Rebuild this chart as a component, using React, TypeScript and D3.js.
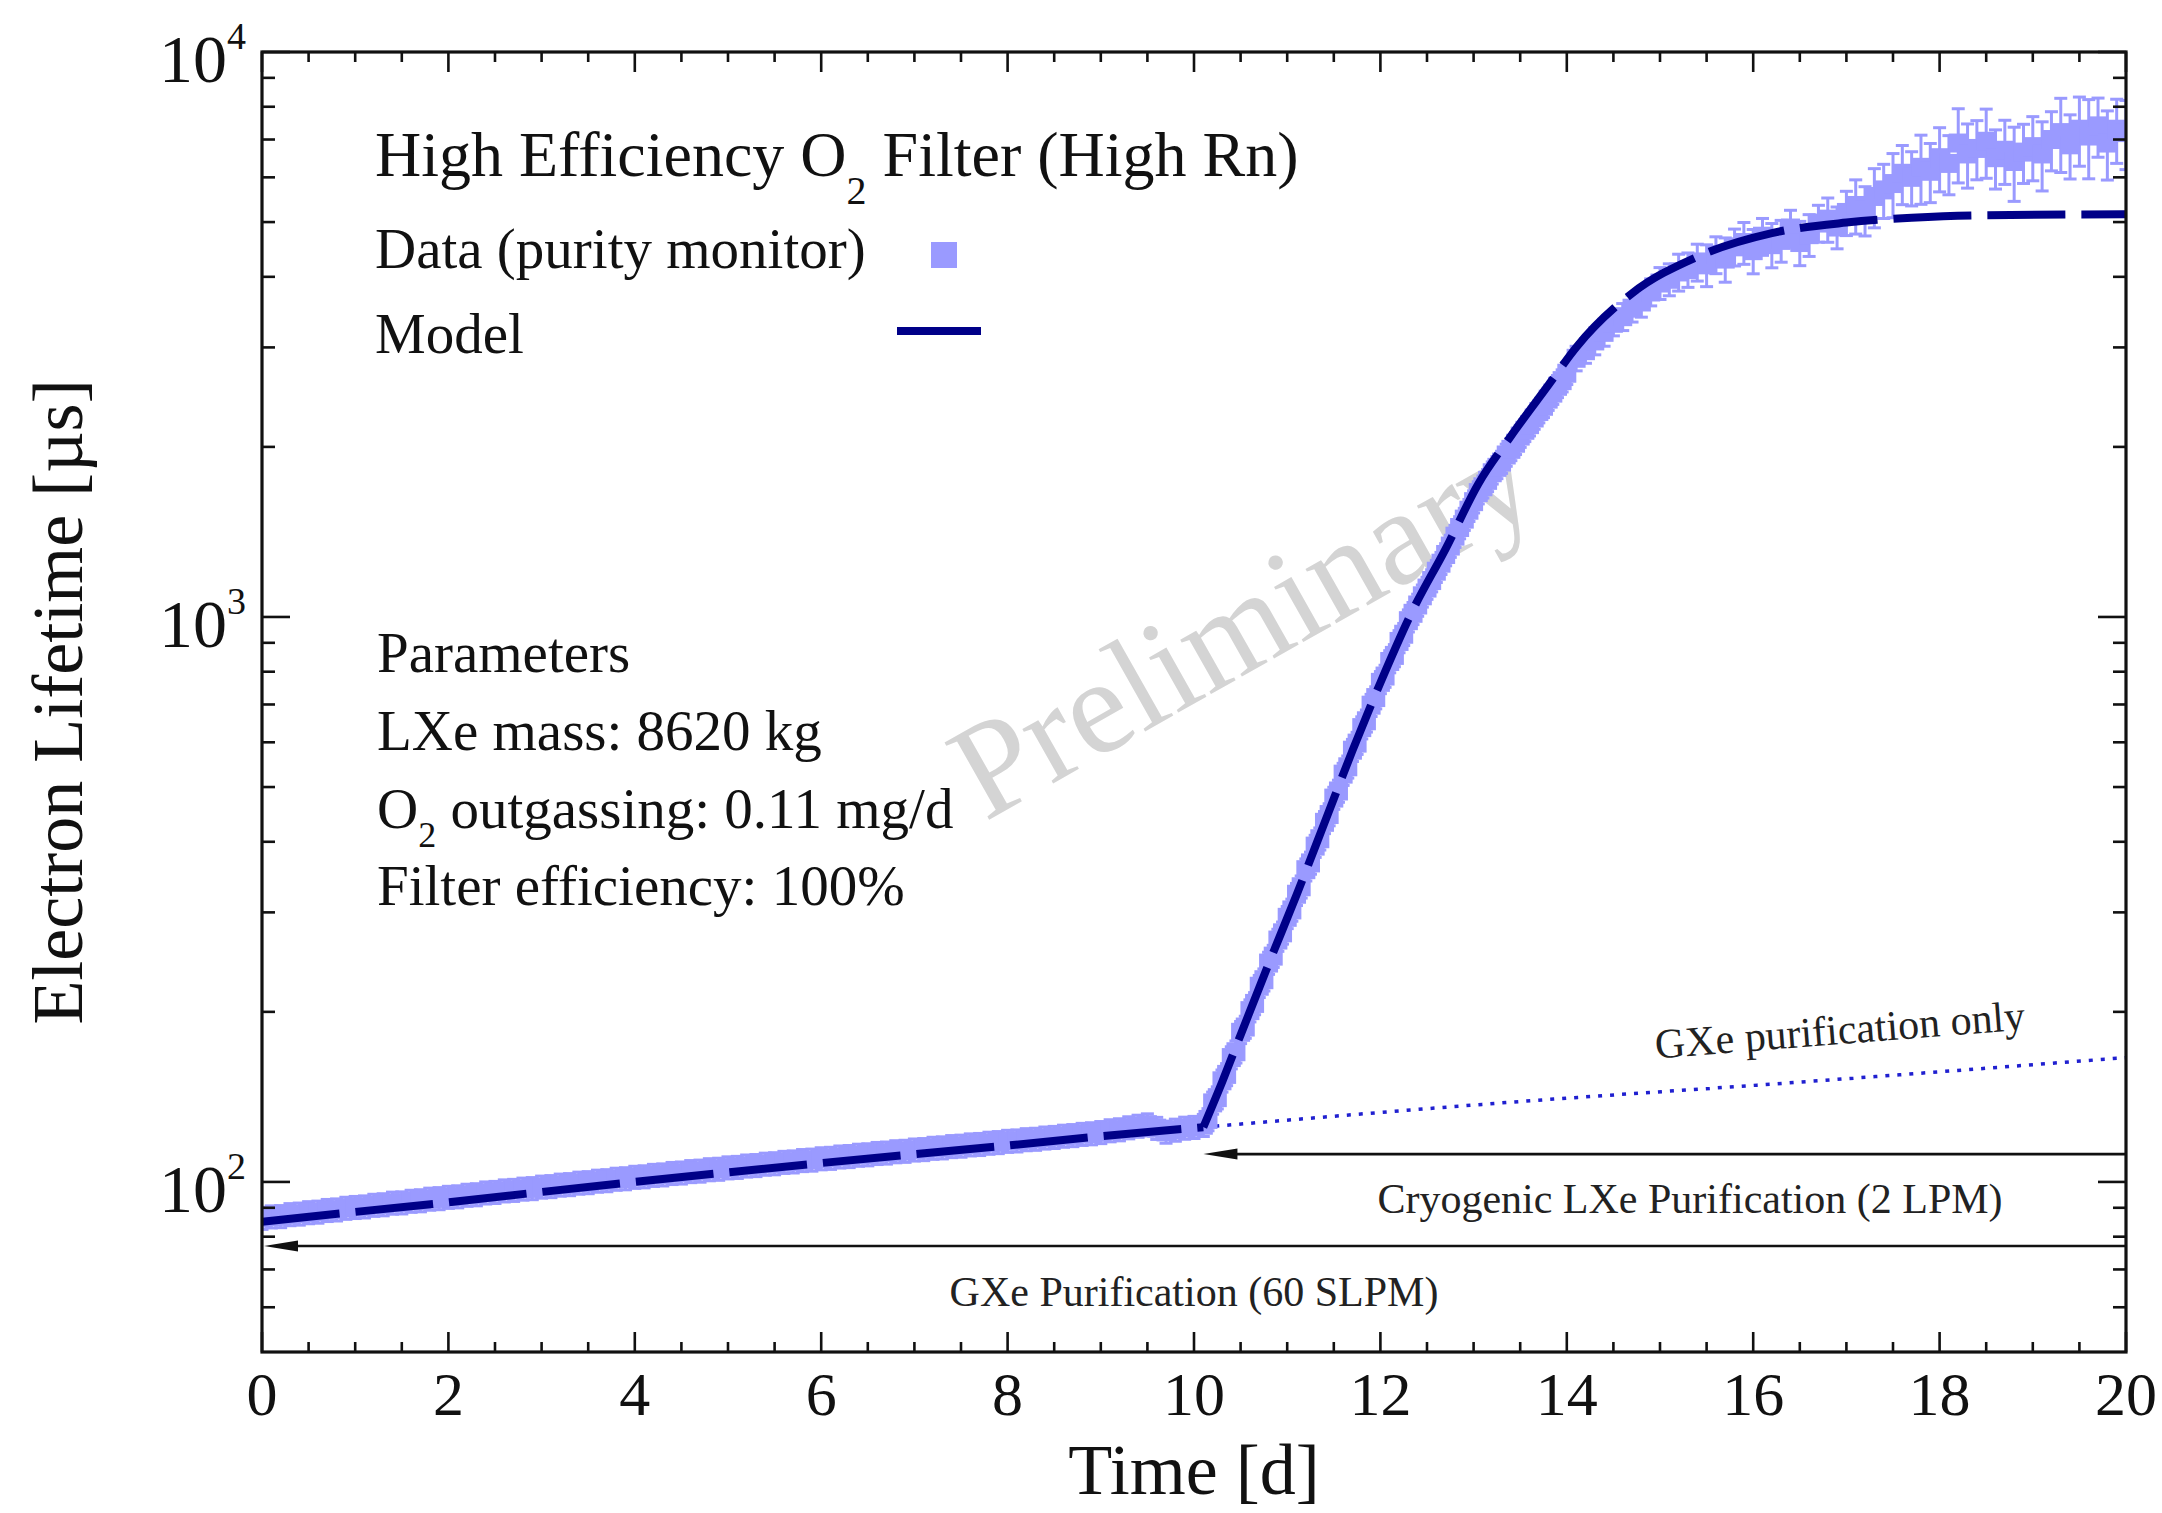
import React from "react";
import * as d3 from "d3";

// ---------- data ----------
const xTickValues = [0, 2, 4, 6, 8, 10, 12, 14, 16, 18, 20];
const yMajorTicks = [100, 1000, 10000];
const yMajorExponents = ["2", "3", "4"];

// model (dashed) : GXe-only phase, then cryogenic LXe purification phase
const modelT1 = [0, 1, 2, 3, 4, 5, 6, 7, 8, 9, 10.1];
const modelV1 = [85, 88.5, 92, 96, 100, 104, 108, 112, 116, 120.5, 125];
const modelT2 = [10.1, 10.3, 10.5, 10.8, 11.1, 11.4, 11.7, 12.0, 12.35, 12.7, 13.05, 13.4, 13.8, 14.1, 14.7, 15.4, 16.2, 17.0, 17.7, 18.4, 20];
const modelV2 = [125, 150, 182, 243, 322, 432, 580, 765, 1030, 1320, 1720, 2090, 2570, 3000, 3740, 4340, 4780, 4990, 5090, 5140, 5160];

// "GXe purification only" extrapolation (dotted)
const gxeOnlyT = [10.1, 13.3, 16.45, 20];
const gxeOnlyV = [125, 138, 150, 166];

// purity monitor data, t = 0.0 .. 10.0 every 0.1 d
const dataVA = [
  86.3, 86.8, 86.9, 87.6, 87.8, 88.3, 88.5, 89.1, 89.3, 89.9,
  90.2, 90.4, 91.0, 91.2, 91.8, 91.9, 92.5, 92.7, 93.3, 93.5,
  94.0, 94.2, 94.8, 95.0, 95.7, 95.9, 96.5, 96.7, 97.2, 97.4,
  98.0, 98.2, 98.8, 99.0, 99.6, 99.8, 100.4, 100.6, 101.2, 101.4,
  102.0, 102.2, 102.8, 103.0, 103.6, 103.8, 104.4, 104.6, 105.2, 105.4,
  106.0, 106.2, 106.8, 107.0, 107.6, 107.8, 108.4, 108.6, 109.2, 109.4,
  110.0, 110.2, 110.8, 111.0, 111.6, 111.8, 112.4, 112.6, 113.2, 113.4,
  114.0, 114.2, 114.8, 115.0, 115.6, 115.8, 116.4, 116.6, 117.2, 117.5,
  118.1, 118.3, 118.9, 119.1, 119.7, 120.0, 120.6, 120.9, 121.5, 121.8,
  122.4, 123.3, 123.8, 124.8, 125.6, 126.3, 124.5, 122.6, 123.6, 124.6,
  125.0,
];
const errA = 0.045;
// t = 10.10 .. 14.00 every 0.05 d
const dataVB = [
  126, 129, 138, 141, 151, 155, 166, 170, 184, 188,
  201, 207, 222, 228, 244, 251, 268, 276, 294, 303,
  323, 333, 357, 367, 393, 405, 433, 447, 478, 492,
  527, 543, 581, 598, 637, 655, 698, 720, 766, 786,
  834, 855, 905, 932, 985, 1015, 1050, 1090, 1125, 1160,
  1205, 1245, 1290, 1335, 1390, 1440, 1490, 1545, 1600, 1660,
  1700, 1745, 1800, 1840, 1880, 1935, 1980, 2030, 2090, 2140,
  2190, 2250, 2310, 2360, 2430, 2490, 2560, 2620, 2700,
];
const errB = 0.045;
// t = 14.1 .. 20.0 every 0.1 d
const dataVC = [
  2870, 2960, 3080, 3190, 3310, 3400, 3520, 3610, 3760, 3900,
  3960, 4080, 4120, 4250, 4200, 4380, 4300, 4520, 4600, 4450,
  4720, 4560, 4640, 4880, 4600, 4750, 4980, 5060, 4900, 5200,
  5350, 5250, 5550, 5700, 5850, 6100, 6000, 6250, 6150, 6500,
  6350, 6900, 6600, 6750, 6950, 6500, 6700, 6400, 6650, 6800,
  6600, 7000, 7200, 6850, 7300, 7100, 7400, 6900, 7300, 7200,
];
const errC = [
  0.05, 0.05, 0.055, 0.055, 0.05, 0.055, 0.055, 0.06, 0.055, 0.065,
  0.065, 0.075, 0.07, 0.075, 0.085, 0.075, 0.09, 0.075, 0.085, 0.09,
  0.075, 0.09, 0.085, 0.075, 0.09, 0.085, 0.075, 0.09, 0.085, 0.09,
  0.11, 0.1, 0.12, 0.11, 0.13, 0.12, 0.11, 0.14, 0.12, 0.13,
  0.12, 0.15, 0.13, 0.12, 0.14, 0.12, 0.13, 0.15, 0.12, 0.13,
  0.14, 0.12, 0.15, 0.13, 0.14, 0.16, 0.12, 0.14, 0.13, 0.14,
];

// arrows (purification phases)
const arrowSpecs = [
  { from: 20, to: 10.08, v: 112 },
  { from: 20, to: 0, v: 77 },
];

const FONT = "'Liberation Serif', 'Times New Roman', Times, serif";
const DATA_COLOR = "#9a9aff";
const MODEL_COLOR = "#000088";

export default function App() {
  const x = d3.scaleLinear().domain([0, 20]).range([262, 2126]);
  const y = d3.scaleLog().domain([50, 10000]).range([1352, 52]);
  const L = 262, R = 2126, T = 52, B = 1352;

  const timesA = d3.range(dataVA.length).map((i) => +(i * 0.1).toFixed(2));
  const timesB = d3.range(dataVB.length).map((i) => +(10.1 + i * 0.05).toFixed(2));
  const timesC = d3.range(dataVC.length).map((i) => +(14.1 + i * 0.1).toFixed(2));

  type P = { t: number; v: number; e: number };
  const points: P[] = [
    ...dataVA.map((v, i) => ({ t: timesA[i], v, e: errA })),
    ...dataVB.map((v, i) => ({ t: timesB[i], v, e: errB })),
    ...dataVC.map((v, i) => ({ t: timesC[i], v, e: errC[i] })),
  ];

  const lineLin = d3
    .line<[number, number]>()
    .x((d) => x(d[0]))
    .y((d) => y(d[1]));
  const lineSmooth = d3
    .line<[number, number]>()
    .x((d) => x(d[0]))
    .y((d) => y(d[1]))
    .curve(d3.curveMonotoneX);

  const model1 = lineLin(modelT1.map((t, i) => [t, modelV1[i]] as [number, number])) || "";
  const model2 = lineSmooth(modelT2.map((t, i) => [t, modelV2[i]] as [number, number])) || "";
  const gxeOnly = lineSmooth(gxeOnlyT.map((t, i) => [t, gxeOnlyV[i]] as [number, number])) || "";

  const xMinor = d3.range(0, 20.001, 0.5).filter((t) => Math.abs(t / 2 - Math.round(t / 2)) > 1e-6);
  const yMinor = y
    .ticks()
    .filter((v) => !yMajorTicks.includes(v) && v > 50 && v < 10000);

  const sq = 19;
  const cap = 13;

  return (
    <svg
      width={2162}
      height={1513}
      style={{ position: "absolute", left: 0, top: 0, background: "#fff", display: "block" }}
      fontFamily={FONT}
    >
      <rect x={0} y={0} width={2162} height={1513} fill="#ffffff" />
      <defs>
        <clipPath id="plotClip">
          <rect x={L} y={T} width={R - L} height={B - T} />
        </clipPath>
      </defs>

      {/* watermark */}
      <text
        x={985}
        y={822}
        fontSize={136}
        fill="#d4d4d4"
        transform="rotate(-29.5 985 822)"
      >
        Preliminary
      </text>

      {/* dotted GXe-only extrapolation */}
      <path
        d={gxeOnly}
        fill="none"
        stroke="#2020d0"
        strokeWidth={3.5}
        strokeDasharray="4 8"
        clipPath="url(#plotClip)"
      />

      {/* arrows */}
      {arrowSpecs.map((a, i) => {
        const y0 = y(a.v);
        const xh = x(a.to);
        const xs = x(a.from);
        return (
          <g key={"arr" + i}>
            <line x1={xs} x2={xh + 20} y1={y0} y2={y0} stroke="#111" strokeWidth={2.6} />
            <polygon
              points={`${xh + 2},${y0} ${xh + 36},${y0 - 5.5} ${xh + 36},${y0 + 5.5}`}
              fill="#111"
            />
          </g>
        );
      })}

      {/* data: error bars + squares */}
      <g clipPath="url(#plotClip)">
        {points.map((p, i) => {
          const cx = x(p.t);
          const y1 = y(p.v * (1 + p.e));
          const y2 = y(p.v * (1 - p.e));
          return (
            <g key={"eb" + i} stroke={DATA_COLOR} strokeWidth={3}>
              <line x1={cx} x2={cx} y1={y1} y2={y2} />
              <line x1={cx - cap / 2} x2={cx + cap / 2} y1={y1} y2={y1} />
              <line x1={cx - cap / 2} x2={cx + cap / 2} y1={y2} y2={y2} />
            </g>
          );
        })}
        {points.map((p, i) => (
          <rect
            key={"pt" + i}
            x={x(p.t) - sq / 2}
            y={y(p.v) - sq / 2}
            width={sq}
            height={sq}
            fill={DATA_COLOR}
          />
        ))}
      </g>

      {/* model */}
      <g clipPath="url(#plotClip)" fill="none" stroke={MODEL_COLOR} strokeWidth={8}>
        <path d={model1} strokeDasharray="78 16" />
        <path d={model2} strokeDasharray="78 16" />
      </g>

      {/* frame */}
      <rect x={L} y={T} width={R - L} height={B - T} fill="none" stroke="#111" strokeWidth={3.2} />

      {/* ticks */}
      <g stroke="#111" strokeWidth={2.6}>
        {xTickValues.map((t) => (
          <g key={"xt" + t}>
            <line x1={x(t)} x2={x(t)} y1={B} y2={B - 20} />
            <line x1={x(t)} x2={x(t)} y1={T} y2={T + 20} />
          </g>
        ))}
        {xMinor.map((t) => (
          <g key={"xm" + t}>
            <line x1={x(t)} x2={x(t)} y1={B} y2={B - 10} />
            <line x1={x(t)} x2={x(t)} y1={T} y2={T + 10} />
          </g>
        ))}
        {yMajorTicks.map((v) => (
          <g key={"yt" + v}>
            <line x1={L} x2={L + 28} y1={y(v)} y2={y(v)} />
            <line x1={R} x2={R - 28} y1={y(v)} y2={y(v)} />
          </g>
        ))}
        {yMinor.map((v) => (
          <g key={"ym" + v}>
            <line x1={L} x2={L + 13} y1={y(v)} y2={y(v)} />
            <line x1={R} x2={R - 13} y1={y(v)} y2={y(v)} />
          </g>
        ))}
      </g>

      {/* x tick labels */}
      <g fontSize={62} fill="#111" textAnchor="middle">
        {xTickValues.map((t) => (
          <text key={"xl" + t} x={x(t)} y={1415}>
            {String(t)}
          </text>
        ))}
      </g>

      {/* y tick labels */}
      <g fontSize={68} fill="#111" textAnchor="end">
        {yMajorTicks.map((v, i) => (
          <text key={"yl" + v} x={246} y={y(v) + 30}>
            10
            <tspan dy={-33} fontSize={38}>
              {yMajorExponents[i]}
            </tspan>
          </text>
        ))}
      </g>

      {/* axis titles */}
      <text x={(L + R) / 2} y={1494} fontSize={72} textAnchor="middle" fill="#111">
        Time [d]
      </text>
      <text
        x={0}
        y={0}
        fontSize={72}
        textAnchor="middle"
        fill="#111"
        transform={`translate(82, ${(T + B) / 2}) rotate(-90)`}
      >
        Electron Lifetime [µs]
      </text>

      {/* legend */}
      <text x={375} y={176} fontSize={64} fill="#111">
        High Efficiency O
        <tspan dy={28} fontSize={40}>
          2
        </tspan>
        <tspan dy={-28}>{" Filter (High Rn)"}</tspan>
      </text>
      <text x={375} y={268} fontSize={57} fill="#111">
        Data (purity monitor)
      </text>
      <rect x={931} y={242} width={26} height={26} fill={DATA_COLOR} />
      <text x={375} y={353} fontSize={57} fill="#111">
        Model
      </text>
      <line x1={897} x2={981} y1={331} y2={331} stroke={MODEL_COLOR} strokeWidth={8} />

      {/* parameters */}
      <g fontSize={57} fill="#111">
        <text x={377} y={672}>Parameters</text>
        <text x={377} y={750}>LXe mass: 8620 kg</text>
        <text x={377} y={828}>
          O
          <tspan dy={19} fontSize={36}>
            2
          </tspan>
          <tspan dy={-19}>{" outgassing: 0.11 mg/d"}</tspan>
        </text>
        <text x={377} y={905}>Filter efficiency: 100%</text>
      </g>

      {/* annotations */}
      <g fontSize={42} fill="#222" textAnchor="middle">
        <text x={1841} y={1044} transform="rotate(-4.5 1841 1044)">
          GXe purification only
        </text>
        <text x={1690} y={1213}>Cryogenic LXe Purification (2 LPM)</text>
        <text x={1194} y={1306}>GXe Purification (60 SLPM)</text>
      </g>
    </svg>
  );
}
